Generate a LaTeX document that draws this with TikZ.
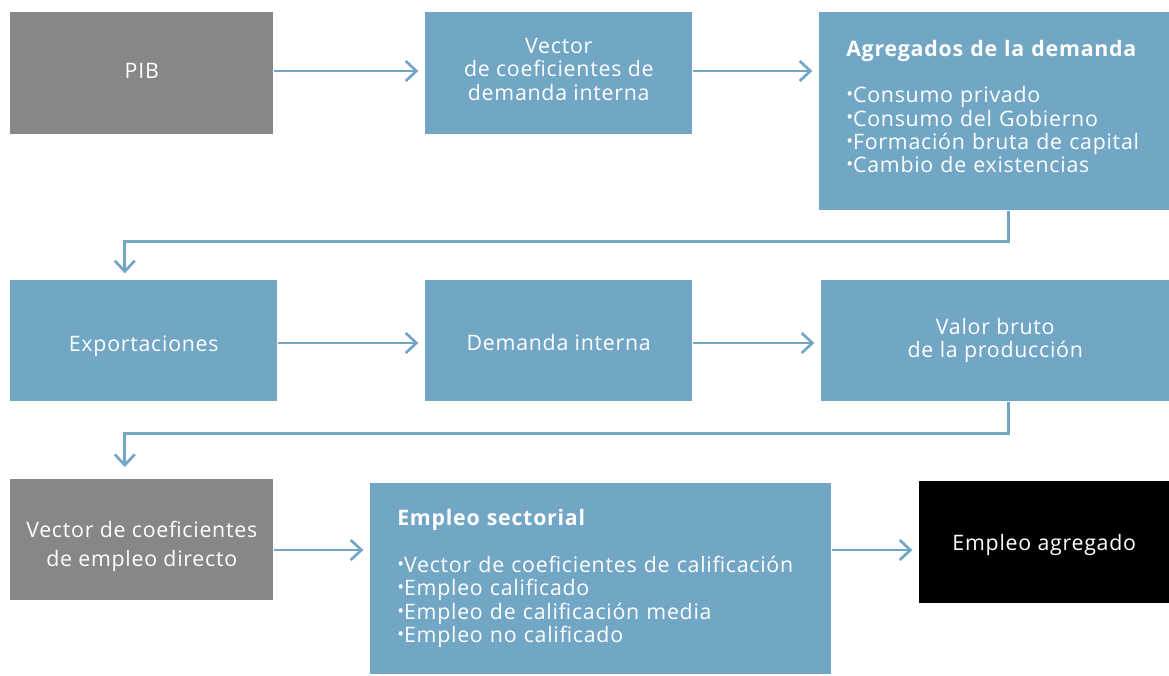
\documentclass[tikz,border=0pt]{standalone}
\usepackage{fontspec}
\setmainfont[LetterSpace=3.5]{Open Sans}
\usepackage{tikz}
\usetikzlibrary{calc, arrows.meta}
\usepackage{xcolor}
\definecolor{boxblue}{HTML}{72A6C5}
\definecolor{boxgrey}{HTML}{878787}
\newcommand{\itm}{\raisebox{.2ex}{\scalebox{.85}{\textbullet}}}

\begin{document}
\begin{tikzpicture}[x=0.75pt, y=-0.75pt,
    box/.style={fill=boxblue, text=white, inner sep=0pt, align=center,
      font=\fontsize{16}{17.5}\selectfont},
    greybox/.style={box, fill=boxgrey},
    listbox/.style={box, align=left, inner xsep=20.25pt, anchor=north west},
    arr/.style={draw=boxblue, line width=2pt, -{Straight Barb[length=8pt, width=15pt]}, shorten >=5pt}]

  \useasboundingbox (0, 0) rectangle (1169, 675);

  \node[greybox, minimum width=197.25pt, minimum height=91.5pt, anchor=north west, text depth=3pt] (pib) at (10, 12) {PIB};
  \node[box, minimum width=200.25pt, minimum height=91.5pt, anchor=north west, text depth=6pt] (vec) at (425, 12) {Vector\\de coeficientes de\\demanda interna};
  \node[listbox, text width=222pt, minimum height=148.5pt] (agr) at (819, 12) {\textbf{Agregados de la demanda}\\[17.5pt]
    \itm Consumo privado\\\itm Consumo del Gobierno\\\itm Formación bruta de capital\\\itm Cambio de existencias\\[-10pt]\mbox{}};

  \node[box, minimum width=200.25pt, minimum height=90.75pt, anchor=north west, text height=20pt] (exp) at (10, 280) {Exportaciones};
  \node[box, minimum width=200.25pt, minimum height=90.75pt, anchor=north west, text height=15pt] (dem) at (425, 280) {Demanda interna};
  \node[box, minimum width=261pt, minimum height=90.75pt, anchor=north west] (vbp) at (821, 280) {Valor bruto\\de la producción};

  \node[greybox, minimum width=197.25pt, minimum height=90.75pt, anchor=north west,
    font=\fontsize{16}{21.5}\selectfont] (vce) at (10, 479) {\mbox{}\\[1pt]Vector de coeficientes\\de empleo directo};
  \node[listbox, text width=305.25pt, minimum height=143.25pt] (emp) at (370, 483) {\textbf{Empleo sectorial}\\[17.5pt]
    \itm Vector de coeficientes de calificación\\\itm Empleo calificado\\\itm Empleo de calificación media\\\itm Empleo no calificado};
  \node[box, fill=black, minimum width=187.5pt, minimum height=91.5pt, anchor=north west, text depth=0pt] (agg) at (919, 481) {Empleo agregado};

  \coordinate (r1) at (0, 71);
  \coordinate (r2) at (0, 343);
  \coordinate (r3) at (0, 550);

  \draw[arr] (pib.east |- r1) -- (vec.west |- r1);
  \draw[arr] (vec.east |- r1) -- (agr.west |- r1);
  \draw[arr] (exp.east |- r2) -- (dem.west |- r2);
  \draw[arr] (dem.east |- r2) -- (vbp.west |- r2);
  \draw[arr] (vce.east |- r3) -- (emp.west |- r3);
  \draw[arr] (emp.east |- r3) -- (agg.west |- r3);

  \draw[arr] ($(agr.south)+(14,0)$) -- ++(0, 31) -| ($(exp.north)+(-19,0)$);
  \draw[arr, shorten >=9pt] ($(vbp.south)+(13,0)$) -- ++(0, 32) -| ($(vce.north)+(-17,0)$);
\end{tikzpicture}
\end{document}
